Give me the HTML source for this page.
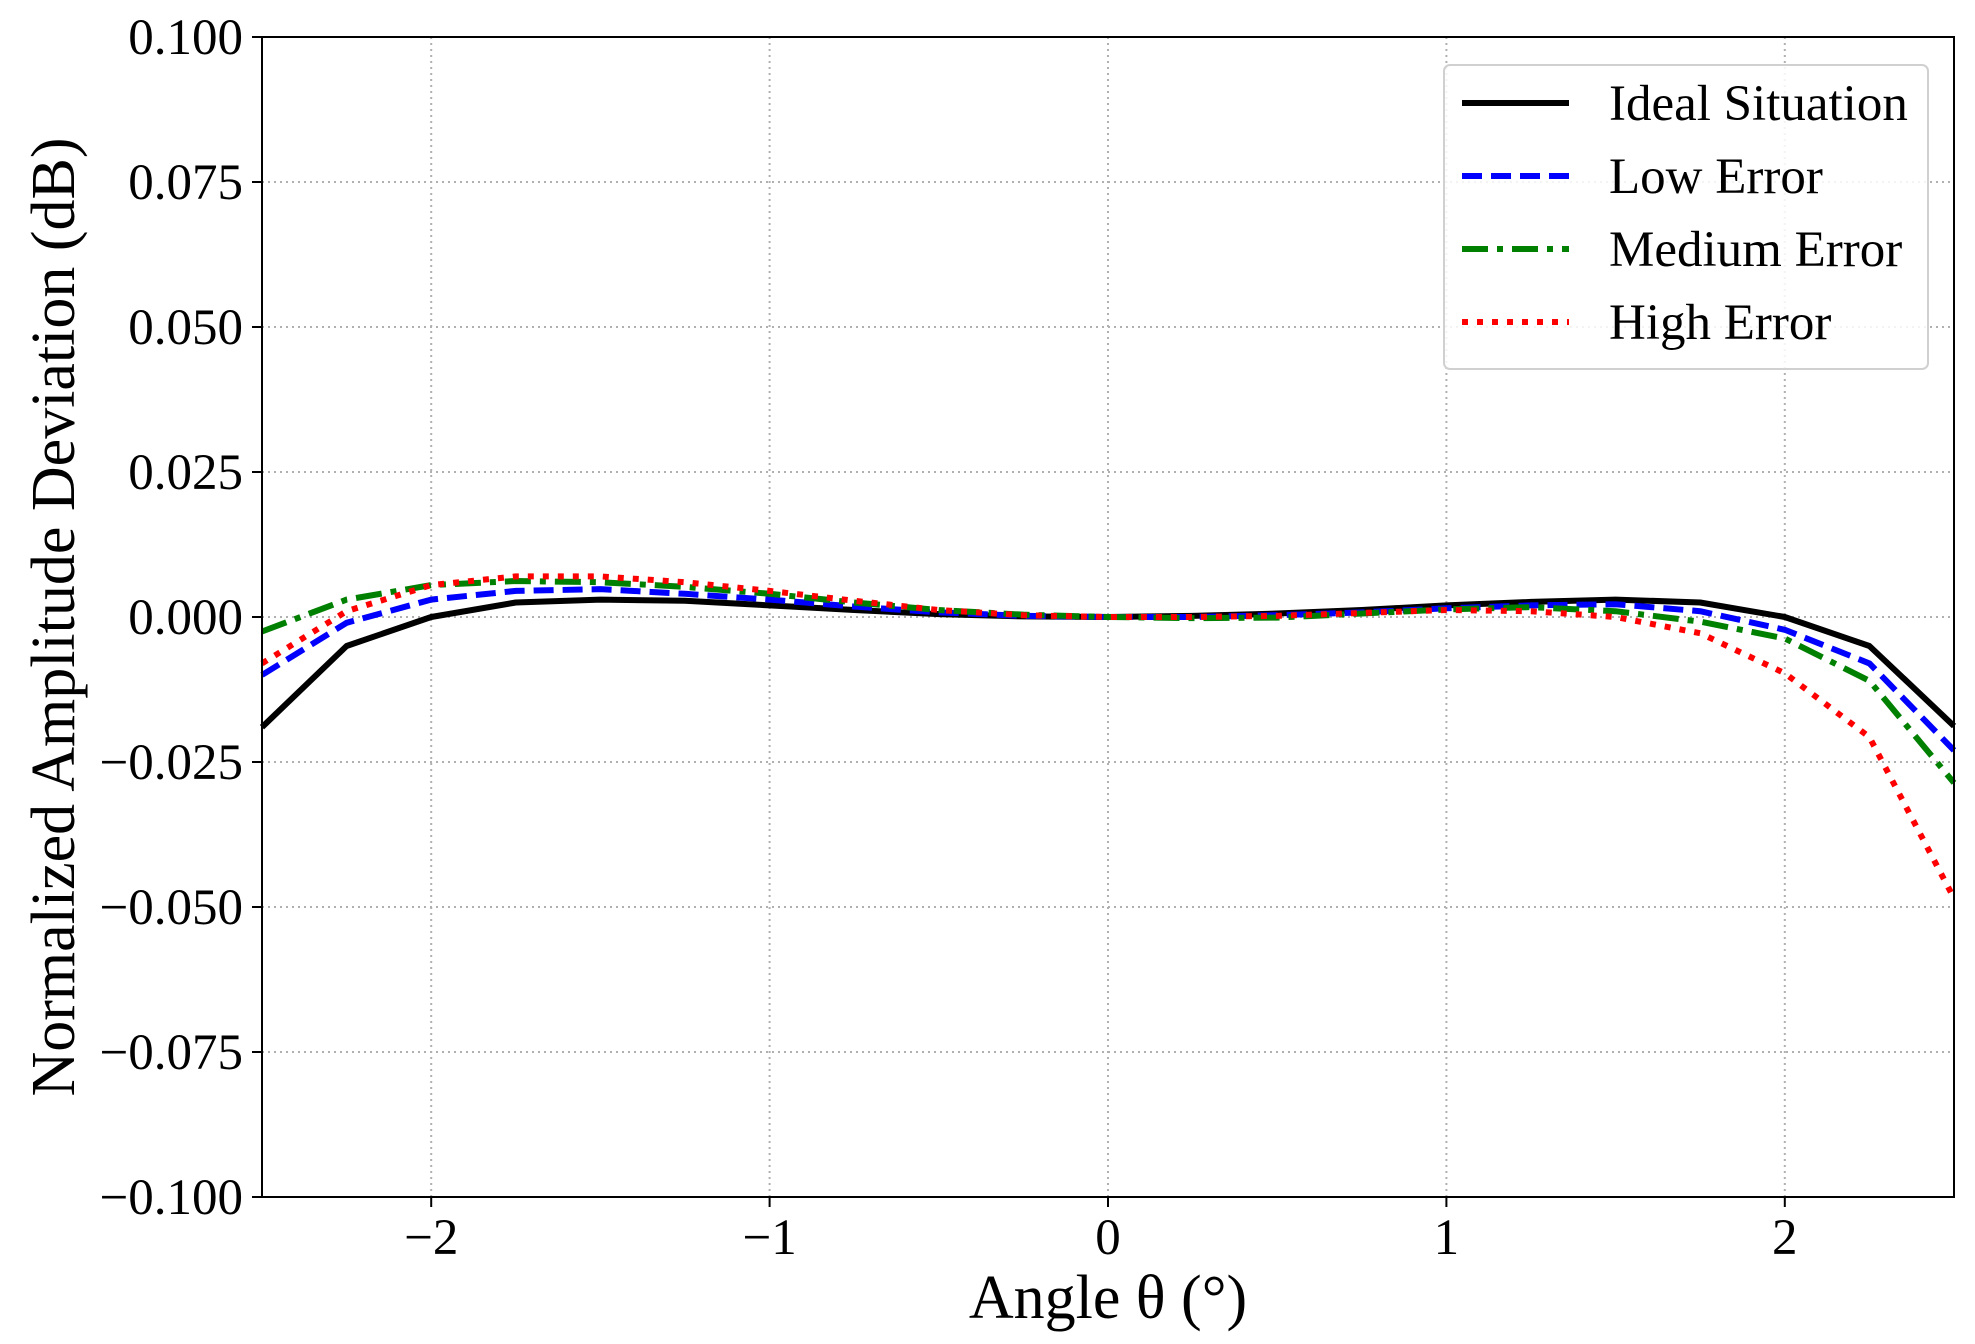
<!DOCTYPE html>
<html><head><meta charset="utf-8"><style>
html,body{margin:0;padding:0;background:#fff}
svg{display:block}
text{font-family:"Liberation Serif","DejaVu Serif",serif;fill:#000}
</style></head><body>
<svg id="chart" width="1975" height="1344" viewBox="0 0 1975 1344" xmlns="http://www.w3.org/2000/svg">
<g id="grid"></g>
<g id="series"></g>
<rect x="262" y="37" width="1692" height="1160" fill="none" stroke="#000" stroke-width="2"/>
<g id="ticks"></g>
<text x="1108" y="1318" font-size="62" text-anchor="middle">Angle θ (°)</text>
<text transform="translate(74,617) rotate(-90)" font-size="62" text-anchor="middle">Normalized Amplitude Deviation (dB)</text>
<g id="legend">
<rect x="1444" y="65" width="484" height="304" rx="6" fill="#fff" fill-opacity="0.85" stroke="#d0d0d0" stroke-width="2"/>
</g>
</svg>
<script>
const xs = [-2.5,-2.25,-2,-1.75,-1.5,-1.25,-1,-0.75,-0.5,-0.25,0,0.25,0.5,0.75,1,1.25,1.5,1.75,2,2.25,2.5];
const ideal = [-0.019,-0.005,0.0,0.0025,0.003,0.0028,0.002,0.0012,0.0005,0.0001,0,0.0002,0.0006,0.0012,0.002,0.0026,0.003,0.0025,0.0,-0.005,-0.0188];
const lowErr = [-0.010,-0.001,0.003,0.0045,0.0048,0.004,0.003,0.0018,0.0008,0.0002,0,0.0,0.0003,0.0008,0.0015,0.002,0.0022,0.001,-0.0022,-0.008,-0.023];
const medErr = [-0.0025,0.003,0.0055,0.0062,0.006,0.0052,0.004,0.0025,0.0012,0.0004,0,-0.0002,-0.0001,0.0006,0.0013,0.0017,0.001,-0.0008,-0.0037,-0.011,-0.0286];
const highErr = [-0.008,0.001,0.0055,0.007,0.007,0.006,0.0045,0.0028,0.0012,0.0003,0,0.0,0.0002,0.0007,0.0012,0.001,0.0,-0.0028,-0.0097,-0.0207,-0.0485];
const xTicks = [-2,-1,0,1,2];
const xTickLabels = ["\u22122","\u22121","0","1","2"];
const yTicks = [-0.1,-0.075,-0.05,-0.025,0,0.025,0.05,0.075,0.1];
const yTickLabels = ["\u22120.100","\u22120.075","\u22120.050","\u22120.025","0.000","0.025","0.050","0.075","0.100"];
const seriesNames = ["Ideal Situation","Low Error","Medium Error","High Error"];

const NS="http://www.w3.org/2000/svg";
const X0=262,X1=1954,Y0=1197,Y1=37;
const sx=v=>X0+(v+2.5)/5*(X1-X0);
const sy=v=>Y0-(v+0.1)/0.2*(Y0-Y1);
function mk(t,a,p){const e=document.createElementNS(NS,t);for(const k in a)e.setAttribute(k,a[k]);p.appendChild(e);return e;}
const grid=document.getElementById('grid'),ticks=document.getElementById('ticks'),ser=document.getElementById('series'),leg=document.getElementById('legend');
xTicks.forEach((v,i)=>{
  const g=mk('line',{x1:sx(v),x2:sx(v),y1:Y1,y2:Y0,stroke:'#b0b0b0','stroke-width':2,'stroke-dasharray':'2,4'},grid);
  
  
  const t=mk('line',{x1:sx(v),x2:sx(v),y1:Y0,y2:Y0+10,stroke:'#000','stroke-width':2},ticks);
  
  
  const l=mk('text',{x:sx(v),y:1254,'font-size':51,'text-anchor':'middle'},ticks);l.textContent=xTickLabels[i];
  
  
});
yTicks.forEach((v,i)=>{
  const g=mk('line',{x1:X0,x2:X1,y1:sy(v),y2:sy(v),stroke:'#b0b0b0','stroke-width':2,'stroke-dasharray':'2,4'},grid);
  
  
  const t=mk('line',{x1:X0-10,x2:X0,y1:sy(v),y2:sy(v),stroke:'#000','stroke-width':2},ticks);
  
  
  const l=mk('text',{x:243,y:sy(v)+17,'font-size':51,'text-anchor':'end'},ticks);l.textContent=yTickLabels[i];
  
  
});
const styles=[
 {c:'#000',d:'',n:'ideal-line'},
 {c:'#0000ff',d:'20,9',n:'low-error-line'},
 {c:'#008000',d:'26,9,6,9',n:'medium-error-line'},
 {c:'#ff0000',d:'6,9',n:'high-error-line'}];
[ideal,lowErr,medErr,highErr].forEach((ys,k)=>{
  const s=styles[k];
  const p=mk('polyline',{points:xs.map((x,i)=>sx(x)+','+sy(ys[i])).join(' '),fill:'none',stroke:s.c,'stroke-width':6,'stroke-dasharray':s.d||'none','stroke-linejoin':'round'},ser);
  
  
  const ly=[103,176,249,322][k];
  const ls=mk('line',{x1:1462,x2:1569,y1:ly,y2:ly,stroke:s.c,'stroke-width':6,'stroke-dasharray':s.d||'none'},leg);
  
  
  const lt=mk('text',{x:1609,y:ly+17,'font-size':51},leg);lt.textContent=seriesNames[k];
  
  
});
</script>
</body></html>
